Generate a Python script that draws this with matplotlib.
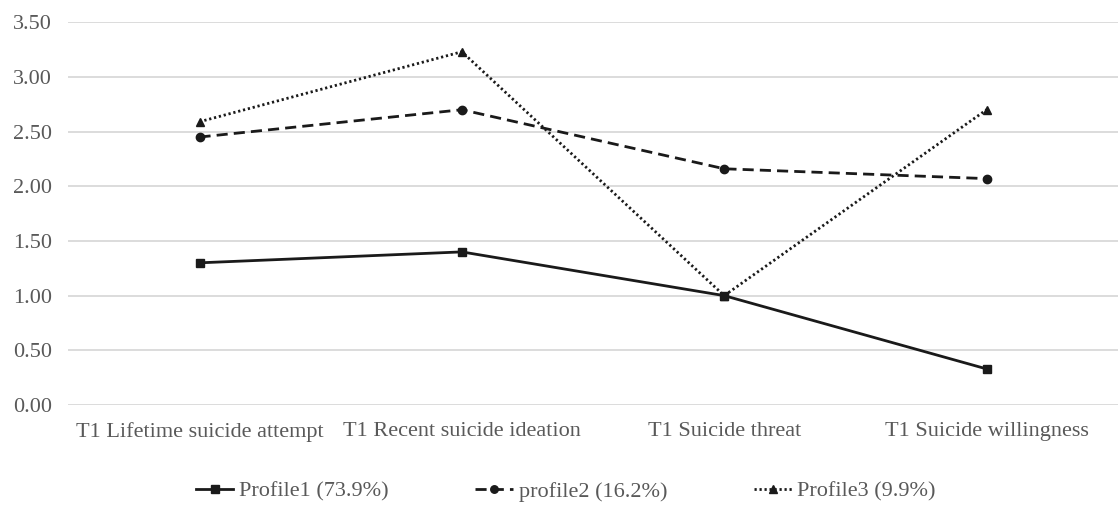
import matplotlib
matplotlib.use("Agg")
import matplotlib.pyplot as plt

categories = ["T1 Lifetime suicide attempt", "T1 Recent suicide ideation",
              "T1 Suicide threat", "T1 Suicide willingness"]
profile1 = [1.30, 1.40, 1.00, 0.33]
profile2 = [2.45, 2.70, 2.16, 2.07]
profile3 = [2.59, 3.23, 1.00, 2.70]
labels = ["Profile1 (73.9%)", "profile2 (16.2%)", "Profile3 (9.9%)"]
yticks = [0.0, 0.5, 1.0, 1.5, 2.0, 2.5, 3.0, 3.5]

plt.rcParams['font.family'] = ['Liberation Serif', 'DejaVu Serif']

fig = plt.figure(figsize=(11.2, 5.05), dpi=100)
ax = fig.add_axes([0.061, 0.198, 0.937, 0.758])

x = list(range(len(categories)))
col = "#1a1a1a"
ax.plot(x, profile1, color=col, lw=2.0, ls='-', marker='s', ms=6, label=labels[0])
ax.plot(x, profile2, color=col, lw=2.0, ls=(0, (4, 2.2)), marker='o', ms=6, label=labels[1])
ax.plot(x, profile3, color=col, lw=2.0, ls=(0, (0.8, 1.0)), marker='^', ms=6, label=labels[2])

ax.set_xlim(-0.5, len(categories) - 0.5)
ax.set_ylim(0, 3.5)
ax.set_yticks(yticks)
ax.set_yticklabels([f"{v:.2f}" for v in yticks])
ax.set_xticks(x)
ax.set_xticklabels(categories)
ax.tick_params(axis='both', length=0, labelsize=16, colors="#595959")
ax.tick_params(axis='y', pad=12)
ax.tick_params(axis='x', pad=12)
ax.grid(axis='y', color="#d9d9d9", lw=1.3)
ax.set_axisbelow(True)
for s in ax.spines.values():
    s.set_visible(False)

leg = fig.legend(loc='center', bbox_to_anchor=(0.505, 0.027), ncol=3, frameon=False,
                 fontsize=16, handlelength=1.7, columnspacing=3.9, handletextpad=0.25,
                 markerscale=0.9)
for t in leg.get_texts():
    t.set_color("#595959")

fig.savefig("out.png", dpi=100)
